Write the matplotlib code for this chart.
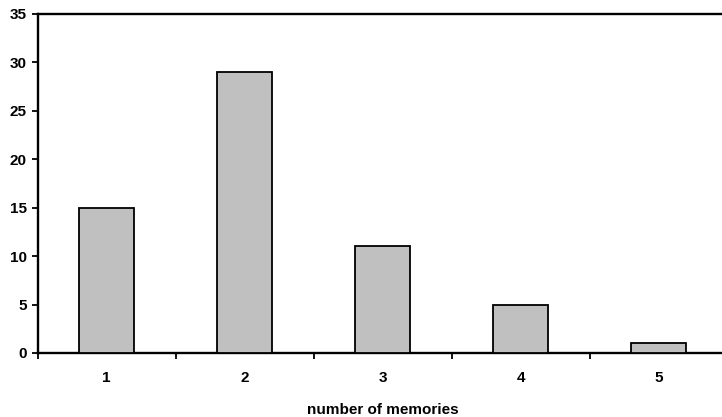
import numpy as np
import matplotlib
matplotlib.use('Agg')
import matplotlib.pyplot as plt

plt.rcParams['font.family'] = ['Liberation Sans', 'DejaVu Sans']
plt.rcParams['font.weight'] = 'bold'

# 数据
categories = ['1', '2', '3', '4', '5']
counts = [15, 29, 11, 5, 1]

fig = plt.figure(figsize=(7.22, 4.17), dpi=100)
# 坐标区右侧略超出画布
ax = fig.add_axes([37.7 / 722, 1 - 353 / 417, 690 / 722, 339 / 417])

x = np.arange(len(categories))
ax.bar(x, counts, width=0.4, color='#c0c0c0', edgecolor='black', linewidth=1.3, zorder=3)

ax.set_xlim(-0.5, len(categories) - 0.5)
ax.set_ylim(0, 35)
ax.set_yticks(np.arange(0, 36, 5))
ax.set_xticks(x)
ax.set_xticklabels(categories, fontsize=11, fontweight='bold')
ax.set_xticks(np.arange(-0.5, len(categories), 1), minor=True)
ax.tick_params(axis='x', which='major', length=0, pad=13)
ax.tick_params(axis='x', which='minor', length=4, width=1.3, direction='out')
ax.tick_params(axis='y', length=4, width=1.3, direction='out', labelsize=11, pad=4)
for lbl in ax.get_yticklabels():
    lbl.set_fontweight('bold')

for side in ['left', 'top', 'bottom']:
    ax.spines[side].set_linewidth(1.7)
ax.spines['right'].set_visible(False)

ax.set_xlabel('number of memories', fontsize=11, fontweight='bold', labelpad=13)

fig.savefig('out.png', dpi=100)
